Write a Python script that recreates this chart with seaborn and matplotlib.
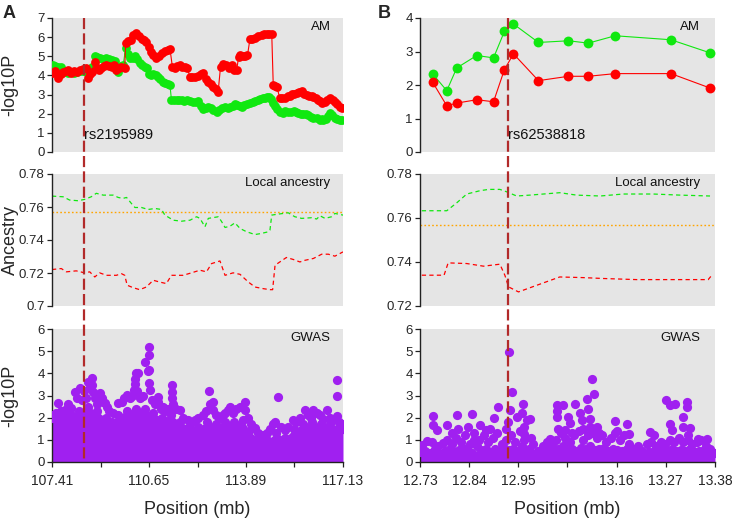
import matplotlib
matplotlib.use("Agg")
import matplotlib.pyplot as plt
import seaborn as sns
import pandas as pd
from matplotlib.lines import Line2D
from matplotlib import transforms

sns.set_style("white")
plt.rcParams['font.family'] = ['Liberation Sans', 'DejaVu Sans']

# ---------------- DATA ----------------
# Panel A  (chr position in mb)
snp_a = 108.48
snp_a_label = "rs2195989"
am_a_red_pos = [107.43,107.50,107.61,107.70,107.78,107.87,107.95,108.06,108.16,108.25,108.35,108.45,108.54,108.61,108.68,108.73,108.84,108.90,108.98,109.06,109.14,109.23,109.32,109.40,109.48,109.56,109.64,109.73,109.84,109.87,109.96,110.05,110.12,110.23,110.32,110.40,110.48,110.56,110.64,110.72,110.80,110.90,110.98,111.07,111.18,111.27,111.35,111.43,111.52,111.60,111.68,111.76,111.85,111.93,112.02,112.10,112.19,112.29,112.38,112.46,112.55,112.63,112.72,112.80,112.88,112.96,113.04,113.13,113.22,113.32,113.41,113.50,113.58,113.64,113.69,113.78,113.86,113.94,114.02,114.10,114.19,114.30,114.41,114.50,114.58,114.67,114.75,114.80,114.87,114.92,115.02,115.10,115.19,115.28,115.35,115.41,115.50,115.58,115.66,115.75,115.83,115.92,116.00,116.08,116.14,116.22,116.30,116.36,116.44,116.52,116.60,116.69,116.78,116.86,116.94,117.02,117.09]
am_a_red_logp = [4.15,4.25,3.85,4.10,4.20,4.25,4.29,4.15,4.22,4.20,4.30,4.35,4.38,3.85,4.05,4.20,4.72,4.40,4.30,4.40,4.50,4.55,4.50,4.45,4.55,4.30,4.40,4.46,4.38,5.69,5.80,5.86,6.13,6.21,6.05,5.92,5.85,5.75,5.50,5.25,5.05,4.90,5.00,5.16,5.30,5.35,5.40,4.46,4.40,4.50,4.55,4.45,4.44,4.40,3.90,3.92,3.93,3.95,4.05,4.14,3.80,3.67,3.55,3.41,3.28,3.15,4.46,4.58,4.55,4.40,4.55,4.30,4.28,4.95,5.07,5.00,5.02,5.05,5.89,5.92,5.94,6.05,6.11,6.15,6.17,6.17,6.17,3.50,3.45,3.41,2.81,2.80,2.81,2.90,2.95,3.03,3.05,3.10,3.15,3.20,3.05,2.98,2.95,2.90,2.86,2.80,2.72,2.68,2.55,2.62,2.70,2.81,2.70,2.63,2.50,2.34,2.28]
am_a_green_pos = [107.43,107.52,107.61,107.70,107.78,107.87,107.95,108.06,108.16,108.25,108.35,108.45,108.56,108.65,108.73,108.84,108.92,109.00,109.10,109.20,109.30,109.40,109.50,109.60,109.70,109.79,109.87,109.95,110.01,110.10,110.18,110.26,110.34,110.42,110.50,110.57,110.65,110.73,110.80,110.88,110.96,111.03,111.12,111.20,111.28,111.35,111.40,111.48,111.57,111.66,111.74,111.83,111.92,112.02,112.13,112.22,112.30,112.38,112.46,112.55,112.63,112.72,112.80,112.91,113.00,113.10,113.19,113.28,113.36,113.44,113.52,113.60,113.68,113.74,113.83,113.92,114.02,114.11,114.19,114.28,114.36,114.45,114.52,114.58,114.66,114.74,114.80,114.86,114.94,115.02,115.11,115.20,115.30,115.40,115.50,115.57,115.64,115.72,115.80,115.89,115.97,116.05,116.14,116.25,116.36,116.42,116.47,116.55,116.62,116.69,116.76,116.85,116.94,117.02,117.09]
am_a_green_logp = [4.55,4.50,4.45,4.45,4.25,4.20,4.15,4.20,4.15,4.20,4.22,4.25,4.20,4.30,4.46,4.99,4.95,4.90,4.85,4.90,4.85,4.80,4.75,4.20,4.50,4.55,5.43,5.10,4.90,4.90,4.99,4.85,4.65,4.55,4.45,4.38,4.10,4.03,4.05,4.00,3.94,3.80,3.68,3.60,3.55,3.50,2.71,2.70,2.72,2.70,2.70,2.68,2.70,2.65,2.63,2.62,2.66,2.40,2.23,2.30,2.36,2.28,2.22,2.10,2.20,2.28,2.34,2.30,2.35,2.40,2.51,2.45,2.38,2.34,2.45,2.52,2.58,2.62,2.66,2.70,2.75,2.80,2.83,2.86,2.86,2.75,2.55,2.40,2.25,2.10,2.05,2.15,2.10,2.08,2.12,2.08,2.05,2.00,1.98,1.96,1.93,1.85,1.80,1.76,1.67,1.70,1.67,1.70,1.90,2.05,1.95,1.80,1.72,1.67,1.66]

la_a_green_pos = [107.41,107.78,108.00,108.28,108.50,108.72,108.89,109.12,109.45,109.62,109.78,109.90,110.06,110.18,110.40,110.62,110.85,111.07,111.18,111.46,111.74,112.02,112.24,112.35,112.52,112.63,112.97,113.08,113.19,113.36,113.52,113.69,113.91,114.19,114.41,114.64,114.69,114.75,114.97,115.30,115.52,115.75,116.08,116.25,116.36,116.53,116.75,116.86,117.13]
la_a_green_anc = [0.7666,0.7662,0.7642,0.7638,0.7646,0.7662,0.7683,0.7672,0.7672,0.7658,0.7652,0.7658,0.7622,0.7597,0.7597,0.7585,0.7591,0.7585,0.7551,0.7520,0.7514,0.7520,0.7541,0.7531,0.7480,0.7531,0.7541,0.7510,0.7476,0.7484,0.7504,0.7470,0.7450,0.7433,0.7440,0.7450,0.7460,0.7551,0.7557,0.7565,0.7541,0.7531,0.7535,0.7527,0.7547,0.7531,0.7541,0.7561,0.7551]
la_a_red_pos = [107.41,107.72,107.89,108.22,108.50,108.67,108.84,109.00,109.23,109.56,109.73,109.84,109.92,110.12,110.34,110.56,110.79,111.01,111.23,111.40,111.79,112.07,112.35,112.57,112.74,113.02,113.19,113.46,113.69,113.97,114.19,114.47,114.69,114.78,114.86,115.02,115.24,115.47,115.69,115.86,116.14,116.42,116.64,116.86,117.13]
la_a_red_anc = [0.7221,0.7227,0.7207,0.7213,0.7201,0.7207,0.7176,0.7201,0.7186,0.7186,0.7196,0.7186,0.7126,0.7111,0.7099,0.7115,0.7156,0.7145,0.7136,0.7186,0.7186,0.7201,0.7217,0.7207,0.7257,0.7273,0.7186,0.7201,0.7192,0.7145,0.7115,0.7105,0.7099,0.7099,0.7247,0.7267,0.7294,0.7282,0.7267,0.7277,0.7288,0.7314,0.7314,0.7302,0.7328]
global_anc = 0.757

gwas_a_pos = [107.45,107.55,107.62,107.72,107.84,107.95,108.05,108.18,108.25,108.35,108.40,108.48,108.55,108.62,108.68,108.74,108.74,108.79,108.85,108.92,109.00,109.07,109.12,109.18,109.25,109.32,109.45,109.60,109.74,109.82,109.90,110.00,110.08,110.15,110.18,110.18,110.22,110.29,110.25,110.35,110.45,110.52,110.60,110.66,110.66,110.66,110.64,110.68,110.75,110.85,110.96,110.96,111.05,111.12,111.20,111.30,111.41,111.41,111.41,111.45,111.55,111.68,111.80,111.96,112.10,112.20,112.30,112.46,112.55,112.66,112.70,112.80,112.80,112.90,113.00,113.13,113.20,113.30,113.36,113.45,113.55,113.69,113.86,113.86,113.95,114.05,114.19,114.30,114.47,114.60,114.70,114.80,114.86,114.97,115.05,115.20,115.30,115.47,115.55,115.70,115.86,115.95,116.05,116.14,116.25,116.36,116.45,116.58,116.70,116.80,116.92,116.92,116.92,117.00,117.10]
gwas_a_logp = [2.10,2.20,2.65,2.30,2.35,2.60,2.45,3.17,2.90,3.32,2.80,3.20,2.90,3.60,3.40,3.78,3.47,3.17,2.90,2.60,3.10,2.87,2.70,2.65,2.50,2.30,2.20,2.65,2.72,2.90,3.02,2.90,3.00,3.25,3.50,3.75,4.00,4.00,3.20,2.90,3.00,4.52,4.10,5.20,4.83,4.15,3.55,3.25,2.80,2.60,2.95,2.72,2.40,2.50,2.30,2.40,3.47,3.17,2.87,2.60,2.40,2.35,2.00,1.90,1.80,1.90,2.00,2.12,2.30,3.20,2.60,2.72,2.35,2.10,2.00,2.12,2.20,2.35,2.50,2.20,2.40,2.48,2.72,2.35,2.00,1.70,1.52,1.30,1.22,1.30,1.50,1.70,1.82,2.94,1.60,1.45,1.60,1.90,1.80,2.00,2.35,2.10,2.00,2.35,2.20,2.10,1.95,2.35,2.00,1.90,3.70,2.98,2.07,1.80,1.70]
gwas_a_dense_pos = [107.41,107.6,107.8,108.0,108.3,108.6,108.9,109.2,109.4,109.6,109.9,110.2,110.5,110.8,111.1,111.4,111.7,112.0,112.3,112.6,112.9,113.2,113.5,113.8,114.0,114.3,114.6,114.9,115.2,115.5,115.8,116.1,116.4,116.7,117.0,117.13]
gwas_a_dense_top = [2.0,2.1,2.0,2.2,2.3,2.5,2.3,2.0,1.8,2.1,2.3,2.4,2.4,2.2,2.0,2.1,1.8,1.6,1.6,1.8,1.7,1.8,1.8,1.9,1.4,1.05,1.0,1.3,1.1,1.5,1.7,1.8,1.7,1.7,1.6,1.5]

# Panel B
snp_b = 12.923
snp_b_label = "rs62538818"
am_b_pos = [12.758,12.789,12.811,12.855,12.892,12.916,12.936,12.991,13.057,13.101,13.160,13.283,13.369]
am_b_green_logp = [2.33,1.83,2.51,2.88,2.81,3.60,3.82,3.27,3.32,3.25,3.47,3.35,2.96]
am_b_red_logp = [2.08,1.38,1.46,1.56,1.50,2.46,2.93,2.13,2.26,2.26,2.34,2.34,1.91]

la_b_green_pos = [12.734,12.789,12.811,12.833,12.862,12.881,12.906,12.921,12.943,12.972,13.038,13.075,13.127,13.178,13.244,13.303,13.369]
la_b_green_anc = [0.7633,0.7633,0.7669,0.7709,0.7724,0.7730,0.7730,0.7719,0.7700,0.7704,0.7715,0.7704,0.7700,0.7709,0.7709,0.7704,0.7700]
la_b_red_pos = [12.734,12.783,12.792,12.833,12.870,12.906,12.917,12.925,12.947,12.987,13.038,13.090,13.134,13.207,13.281,13.365,13.373]
la_b_red_anc = [0.7340,0.7340,0.7396,0.7393,0.7381,0.7390,0.7340,0.7287,0.7264,0.7294,0.7332,0.7329,0.7325,0.7320,0.7320,0.7320,0.7340]

gwas_b_pos = [12.735,12.745,12.757,12.77,12.78,12.79,12.80,12.81,12.82,12.83,12.84,12.85,12.86,12.87,12.88,12.89,12.90,12.91,12.92,12.93,12.94,12.95,12.96,12.97,12.98,12.99,13.00,13.01,13.02,13.03,13.04,13.05,13.06,13.07,13.08,13.09,13.10,13.11,13.12,13.13,13.14,13.15,13.16,13.17,13.18,13.19,13.20,13.21,13.22,13.23,13.24,13.25,13.26,13.27,13.28,13.29,13.30,13.31,13.32,13.33,13.34,13.35,13.36,13.37,
              12.74,12.752,12.763,12.775,12.785,12.795,12.805,12.815,12.825,12.835,12.845,12.855,12.865,12.875,12.885,12.895,12.905,12.915,12.925,12.935,12.945,12.955,12.965,12.975,12.985,12.995,13.005,13.015,13.025,13.035,13.045,13.055,13.065,13.075,13.085,13.095,13.105,13.115,13.125,13.135,13.145,13.155,13.165,13.175,13.185,13.195,13.205,13.215,13.225,13.235,13.245,13.255,13.265,13.275,13.285,13.295,13.305,13.315,13.325,13.335,13.345,13.355,13.365,13.375,
              12.759,12.759,12.767,12.789,12.80,12.812,12.814,12.844,12.836,12.862,12.875,12.893,12.901,12.885,12.925,12.932,12.928,12.924,12.92,12.943,12.958,12.955,12.965,12.972,12.96,12.96,12.975,13.016,13.031,13.031,13.031,13.035,13.046,13.057,13.06,13.072,13.065,13.083,13.087,13.097,13.10,13.108,13.113,13.105,13.105,13.119,13.125,13.16,13.185,13.165,13.19,13.237,13.245,13.273,13.281,13.292,13.281,13.285,13.31,13.318,13.318,13.31,13.325,13.32,13.343,13.362,13.05,13.09,12.85]
gwas_b_logp = [0.75,0.95,0.9,0.7,0.85,1.0,0.8,1.1,0.9,1.2,0.8,1.3,1.0,1.2,0.9,1.1,1.3,0.8,1.0,1.2,0.9,1.4,1.0,0.6,0.8,0.5,0.7,0.9,0.8,1.0,1.3,1.1,0.9,1.2,1.4,1.0,1.2,1.3,1.1,1.2,0.9,1.1,1.3,1.0,1.2,0.8,0.6,0.7,0.5,0.8,0.9,0.7,0.9,0.8,1.0,0.9,1.1,0.9,1.0,0.8,0.9,1.0,0.7,0.6,
               0.5,0.4,0.6,0.35,0.5,0.6,0.45,0.55,0.65,0.5,0.4,0.7,0.55,0.6,0.45,0.6,0.5,0.65,0.55,0.6,0.5,0.7,0.45,0.3,0.4,0.25,0.5,0.55,0.45,0.6,0.7,0.55,0.6,0.5,0.65,0.6,0.7,0.55,0.6,0.65,0.5,0.6,0.55,0.5,0.6,0.45,0.4,0.5,0.35,0.45,0.5,0.4,0.55,0.5,0.6,0.5,0.55,0.5,0.6,0.45,0.5,0.55,0.45,0.4,
               2.08,1.66,1.45,1.69,1.3,2.1,1.5,2.17,1.58,1.66,1.45,2.0,2.46,1.5,4.95,3.14,2.34,1.8,1.5,2.04,2.6,2.2,1.9,1.96,1.6,1.28,1.1,1.06,2.56,2.3,2.04,1.5,2.56,2.04,1.75,2.6,1.3,2.19,1.9,2.82,2.41,3.73,3.05,1.96,1.6,1.58,1.3,1.84,1.73,1.4,1.25,1.36,1.2,2.79,2.56,2.6,1.73,1.45,2.04,2.7,2.46,1.58,1.55,1.2,1.06,1.06,1.45,1.5,1.0]
gwas_b_dense_pos = [12.73,12.8,12.9,12.95,12.98,13.0,13.05,13.1,13.15,13.2,13.25,13.3,13.38]
gwas_b_dense_top = [0.45,0.5,0.5,0.5,0.25,0.35,0.5,0.55,0.5,0.35,0.4,0.45,0.4]

xticks_a = [107.41 + k * 1.62 for k in range(7)]
xticklabels_a = ["107.41", "", "110.65", "", "113.89", "", "117.13"]
xticks_b = [12.73 + k * 0.65 / 6 for k in range(7)]
xticklabels_b = ["12.73", "12.84", "12.95", "", "13.16", "13.27", "13.38"]

# ---------------- STYLE ----------------
RED = "#ff0000"
GREEN = "#10e810"
PURPLE = "#a020f0"
SNPC = "#b22a2a"
ORANGE = "#ffa500"
BG = "#e5e5e5"

W, H = 734, 524
fig = plt.figure(figsize=(W / 100, H / 100), dpi=100)


def add_ax(l, r, t, b):
    return fig.add_axes([l / W, 1 - b / H, (r - l) / W, (b - t) / H])


cols = [(52, 343), (420, 715)]
rows = [(18, 152), (174, 306), (329, 462)]
axes = [[add_ax(c[0], c[1], r[0], r[1]) for c in cols] for r in rows]

for i, row in enumerate(axes):
    for ax in row:
        ax.set_facecolor(BG)
        for s in ["top", "right"]:
            ax.spines[s].set_visible(False)
        ax.spines["left"].set_color("#222222")
        ax.spines["left"].set_linewidth(1.0)
        if i < 2:
            ax.spines["bottom"].set_visible(False)
            ax.set_xticks([])
        else:
            ax.spines["bottom"].set_color("#222222")
            ax.spines["bottom"].set_linewidth(1.0)
        ax.tick_params(axis="both", which="both", direction="out", length=3.8,
                       width=0.9, color="#222222", labelsize=9.5, pad=1.5,
                       left=True, bottom=(i == 2))

xlims = [(107.41, 117.13), (12.73, 13.38)]
for j in range(2):
    for i in range(3):
        axes[i][j].set_xlim(*xlims[j])

MS = 40
# AM panels
ax = axes[0][0]
sns.lineplot(x=am_a_green_pos, y=am_a_green_logp, ax=ax, color=GREEN, lw=0.8, estimator=None, sort=False)
sns.scatterplot(x=am_a_green_pos, y=am_a_green_logp, ax=ax, color=GREEN, s=MS, linewidth=0, zorder=3)
sns.lineplot(x=am_a_red_pos, y=am_a_red_logp, ax=ax, color=RED, lw=0.8, estimator=None, sort=False, zorder=4)
sns.scatterplot(x=am_a_red_pos, y=am_a_red_logp, ax=ax, color=RED, s=MS, linewidth=0, zorder=5)
ax.set_ylim(0, 7)
ax.set_yticks(range(0, 8))

ax = axes[0][1]
sns.lineplot(x=am_b_pos, y=am_b_green_logp, ax=ax, color=GREEN, lw=0.8, estimator=None, sort=False)
sns.scatterplot(x=am_b_pos, y=am_b_green_logp, ax=ax, color=GREEN, s=50, linewidth=0, zorder=3)
sns.lineplot(x=am_b_pos, y=am_b_red_logp, ax=ax, color=RED, lw=0.8, estimator=None, sort=False, zorder=4)
sns.scatterplot(x=am_b_pos, y=am_b_red_logp, ax=ax, color=RED, s=50, linewidth=0, zorder=5)
ax.set_ylim(0, 4)
ax.set_yticks(range(0, 5))

# Local ancestry panels
DASH = (0, (3.4, 2.6))
for ax, gp, ga, rp, ra, ylim, yt, ytl in [
    (axes[1][0], la_a_green_pos, la_a_green_anc, la_a_red_pos, la_a_red_anc, (0.70, 0.78),
     [0.70, 0.72, 0.74, 0.76, 0.78], ["0.7", "0.72", "0.74", "0.76", "0.78"]),
    (axes[1][1], la_b_green_pos, la_b_green_anc, la_b_red_pos, la_b_red_anc, (0.72, 0.78),
     [0.72, 0.74, 0.76, 0.78], ["0.72", "0.74", "0.76", "0.78"]),
]:
    ax.axhline(global_anc, color=ORANGE, lw=1.0, linestyle=(0, (1.2, 1.6)))
    sns.lineplot(x=gp, y=ga, ax=ax, color=GREEN, lw=0.9, estimator=None, sort=False, linestyle=DASH)
    sns.lineplot(x=rp, y=ra, ax=ax, color=RED, lw=0.9, estimator=None, sort=False, linestyle=DASH)
    ax.set_ylim(*ylim)
    ax.set_yticks(yt)
    ax.set_yticklabels(ytl)

# GWAS panels
for ax, dp, dt, px, py, xt, xtl in [
    (axes[2][0], gwas_a_dense_pos, gwas_a_dense_top, gwas_a_pos, gwas_a_logp, xticks_a, xticklabels_a),
    (axes[2][1], gwas_b_dense_pos, gwas_b_dense_top, gwas_b_pos, gwas_b_logp, xticks_b, xticklabels_b),
]:
    ax.fill_between(dp, 0, dt, color=PURPLE, lw=0, zorder=2)
    sns.scatterplot(x=px, y=py, ax=ax, color=PURPLE, s=44, linewidth=0, zorder=3)
    sns.scatterplot(x=dp, y=dt, ax=ax, color=PURPLE, s=44, linewidth=0, zorder=3)
    ax.set_ylim(0, 6)
    ax.set_yticks(range(0, 7))
    ax.set_xticks(xt)
    ax.set_xticklabels(xtl)
    ax.tick_params(axis="x", labelsize=10, pad=5)
    ax.set_xlabel("Position (mb)", fontsize=13)
    ax.xaxis.set_label_coords(0.5, -0.29)

# panel titles
for j in range(2):
    for i, t in enumerate(["AM", "Local ancestry", "GWAS"]):
        axes[i][j].text(0.957 if j == 0 else 0.95, 0.93, t, transform=axes[i][j].transAxes,
                        ha="right", va="center", fontsize=9.5, color="#111111")

# y labels
axes[0][0].set_ylabel("-log10P", fontsize=13)
axes[1][0].set_ylabel("Ancestry", fontsize=13)
axes[2][0].set_ylabel("-log10P", fontsize=13)
for i in range(3):
    axes[i][0].yaxis.set_label_coords(-0.115, 0.5)

# SNP lines across all three rows
for j, (xs, lab) in enumerate([(snp_a, snp_a_label), (snp_b, snp_b_label)]):
    top = axes[0][j]
    tr = transforms.blended_transform_factory(top.transData, fig.transFigure)
    fig.add_artist(Line2D([xs, xs], [1 - 18 / H, 1 - 462 / H], transform=tr, color=SNPC,
                          lw=1.6, linestyle=(0, (5.0, 1.9)), zorder=10))
    tr2 = transforms.blended_transform_factory(top.transData, top.transAxes)
    top.text(xs, 0.127, lab, transform=tr2, ha="left", va="center", fontsize=10.5, color="#111111")

fig.text(3 / W, 1 - 5 / H, "A", fontsize=13, fontweight="bold", ha="left", va="top")
fig.text(378 / W, 1 - 5 / H, "B", fontsize=13, fontweight="bold", ha="left", va="top")

fig.savefig("out.png", dpi=100)
